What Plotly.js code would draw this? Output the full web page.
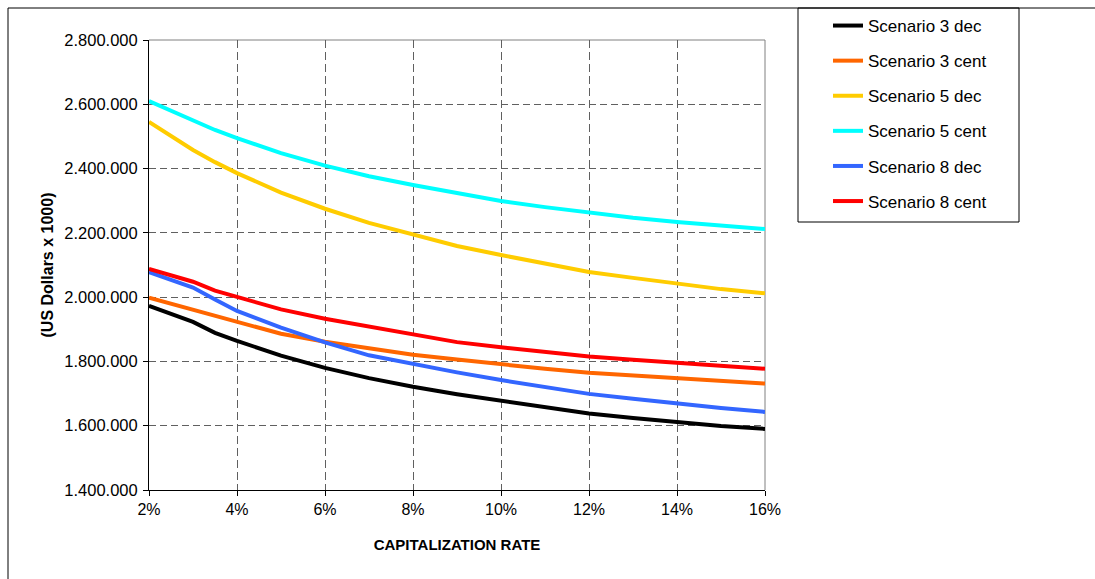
<!DOCTYPE html>
<html>
<head>
<meta charset="utf-8">
<script src="https://cdn.plot.ly/plotly-3.0.1.min.js"></script>
<style>
  html, body { margin: 0; padding: 0; background: #ffffff; }
  #chart { width: 1095px; height: 579px; }
</style>
</head>
<body>
<div id="chart"></div>
<script>
// Capitalization rate (%)
var capRate = [2, 3, 3.5, 4, 5, 6, 7, 8, 9, 10, 11, 12, 13, 14, 15, 16];

// Values (US Dollars x 1000)
var scenario3Dec  = [1973000, 1923000, 1889000, 1864000, 1818000, 1780000, 1748000, 1721000, 1698000, 1677000, 1656000, 1638000, 1624000, 1611000, 1599000, 1590000];
var scenario3Cent = [1998000, 1960000, 1940000, 1922000, 1886000, 1861000, 1840000, 1821000, 1806000, 1790000, 1777000, 1765000, 1757000, 1748000, 1739000, 1731000];
var scenario5Dec  = [2545000, 2458000, 2420000, 2386000, 2325000, 2275000, 2231000, 2194000, 2159000, 2131000, 2104000, 2078000, 2060000, 2041000, 2025000, 2012000];
var scenario5Cent = [2610000, 2551000, 2520000, 2495000, 2448000, 2409000, 2376000, 2349000, 2324000, 2299000, 2280000, 2262000, 2247000, 2234000, 2222000, 2212000];
var scenario8Dec  = [2078000, 2030000, 1993000, 1957000, 1905000, 1859000, 1819000, 1791000, 1766000, 1742000, 1720000, 1699000, 1684000, 1668000, 1655000, 1643000];
var scenario8Cent = [2088000, 2048000, 2020000, 2001000, 1962000, 1933000, 1909000, 1884000, 1860000, 1844000, 1829000, 1815000, 1805000, 1796000, 1786000, 1777000];

var seriesNames  = ["Scenario 3 dec", "Scenario 3 cent", "Scenario 5 dec", "Scenario 5 cent", "Scenario 8 dec", "Scenario 8 cent"];
var seriesValues = [scenario3Dec, scenario3Cent, scenario5Dec, scenario5Cent, scenario8Dec, scenario8Cent];
var seriesColors = ["#000000", "#FF6600", "#FFCC00", "#00FFFF", "#3366FF", "#FF0000"];

var traces = seriesNames.map(function (name, i) {
  return {
    type: "scatter",
    mode: "lines",
    name: name,
    legendgroup: "g" + i,
    x: capRate,
    y: seriesValues[i],
    line: { color: seriesColors[i], width: 4 },
    hoverinfo: "x+y+name"
  };
});

var W = 1095, H = 579;
var L = 149, R = 765, T = 40, B = 490;
function px2x(p) { return (p - L) / (R - L); }
function py2y(p) { return (B - p) / (B - T); }

var gridColor = "#606060";

var layout = {
  width: W,
  height: H,
  margin: { l: L, r: W - R, t: T, b: H - B, pad: 0 },
  paper_bgcolor: "#ffffff",
  plot_bgcolor: "#ffffff",
  separators: ",.",
  font: { family: "Arial, 'Liberation Sans', sans-serif", color: "#000000", size: 16 },
  showlegend: true,
  legend: {
    xref: "container", yref: "container",
    x: 828 / W, y: 1 - 8 / H,
    xanchor: "left", yanchor: "top",
    bgcolor: "rgba(0,0,0,0)",
    borderwidth: 0,
    tracegroupgap: 10,
    font: { family: "Arial, 'Liberation Sans', sans-serif", size: 17, color: "#000000" }
  },
  xaxis: {
    range: [2, 16],
    tickmode: "linear", tick0: 2, dtick: 2,
    ticksuffix: "%",
    showline: true, linecolor: "#000000", linewidth: 1,
    ticks: "outside", ticklen: 5, tickcolor: "#000000",
    showgrid: true, gridcolor: gridColor, gridwidth: 1, griddash: "8px,4px",
    zeroline: false,
    automargin: false,
    tickfont: { size: 16 },
    title: { text: "<b>CAPITALIZATION RATE</b>", font: { size: 15 }, standoff: 22 }
  },
  yaxis: {
    range: [1400000, 2800000],
    tickmode: "linear", tick0: 1400000, dtick: 200000,
    tickformat: ",.0f",
    showline: true, linecolor: "#000000", linewidth: 1,
    ticks: "outside", ticklen: 5, tickcolor: "#000000",
    ticklabelstandoff: 2,
    showgrid: true, gridcolor: gridColor, gridwidth: 1, griddash: "7px,4px",
    zeroline: false,
    automargin: false,
    tickfont: { size: 16.5 },
    title: { text: "<b>(US Dollars x 1000)</b>", font: { size: 16 }, standoff: 6 }
  },
  shapes: [
    // outer chart frame (top and left edges are inside the picture)
    { type: "line", xref: "paper", yref: "paper",
      x0: px2x(8), x1: px2x(1120), y0: py2y(8), y1: py2y(8),
      line: { color: "#000000", width: 1 }, layer: "above" },
    { type: "line", xref: "paper", yref: "paper",
      x0: px2x(8), x1: px2x(8), y0: py2y(8), y1: py2y(600),
      line: { color: "#000000", width: 1 }, layer: "above" },
    // legend frame
    { type: "rect", xref: "paper", yref: "paper",
      x0: px2x(798), x1: px2x(1019), y0: py2y(222), y1: py2y(8),
      line: { color: "#000000", width: 1 }, fillcolor: "rgba(0,0,0,0)", layer: "above" },
    // plot area top border
    { type: "line", xref: "paper", yref: "paper", x0: 0, x1: 1, y0: 1, y1: 1,
      line: { color: "#808080", width: 1 }, layer: "below" },
    // plot area right border
    { type: "line", xref: "paper", yref: "paper", x0: 1, x1: 1, y0: 0, y1: 1,
      line: { color: "#808080", width: 1 }, layer: "below" }
  ]
};

Plotly.newPlot("chart", traces, layout, { displayModeBar: false });
</script>
</body>
</html>
